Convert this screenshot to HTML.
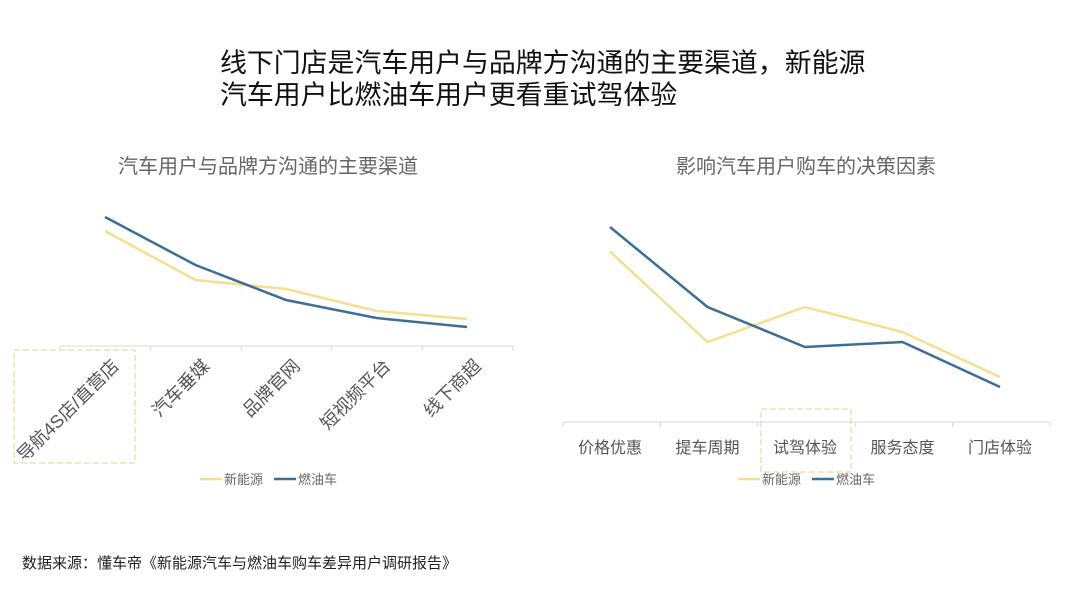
<!DOCTYPE html>
<html><head><meta charset="utf-8">
<style>
body{margin:0;background:#fff;}
svg text{font-family:"Liberation Sans","Noto Sans CJK SC",sans-serif;}
</style></head>
<body>
<svg width="1080" height="608" viewBox="0 0 1080 608" xmlns="http://www.w3.org/2000/svg">
<text x="220" y="72" font-size="26.9" fill="#111">线下门店是汽车用户与品牌方沟通的主要渠道，新能源</text>
<text x="220" y="104" font-size="26.9" fill="#111">汽车用户比燃油车用户更看重试驾体验</text>
<text x="268" y="173" font-size="20" fill="#666" text-anchor="middle">汽车用户与品牌方沟通的主要渠道</text>
<text x="806" y="173" font-size="20" fill="#666" text-anchor="middle">影响汽车用户购车的决策因素</text>
<text x="22" y="568" font-size="15" fill="#222">数据来源：懂车帝《新能源汽车与燃油车购车差异用户调研报告》</text>
<g id="left"></g>
<g id="right"></g>
<rect x="14" y="350" width="121" height="113" fill="none" stroke="#e3d08a" stroke-dasharray="6,3"/>
<rect x="761" y="409" width="90" height="63" fill="none" stroke="#e3d08a" stroke-dasharray="6,3"/>
</svg>
<script>
const NS="http://www.w3.org/2000/svg";
const leftCats=["导航4S店/直营店","汽车垂媒","品牌官网","短视频平台","线下商超"];
const leftNew=[46,26.4,22.8,14,10.8];
const leftFuel=[51.6,32.4,18.4,11.2,7.6];
const rightCats=["价格优惠","提车周期","试驾体验","服务态度","门店体验"];
const rightNew=[68.2,32,46,36,18];
const rightFuel=[78,46,30,32,14];
const seriesNames=["新能源","燃油车"];
const colors=["#f5df8e","#3c6f96"];
function mk(tag,attrs,parent){const e=document.createElementNS(NS,tag);for(const k in attrs)e.setAttribute(k,attrs[k]);parent.appendChild(e);return e;}
function draw(g,cats,s1,s2,o){
  const xs=i=>o.x0+i*o.dx;
  const ys=v=>o.base-v*o.k;
  const ax=mk("line",{x1:o.ax0,x2:o.ax1,y1:o.axisY,y2:o.axisY,stroke:"#d9d9d9"},g);
  
  
  for(let i=0;i<=cats.length;i++){
    const tx=o.ax0+i*(o.ax1-o.ax0)/cats.length;
    const t=mk("line",{x1:tx,x2:tx,y1:o.axisY,y2:o.axisY+5,stroke:"#d9d9d9"},g);
    
    
  }
  cats.forEach((c,i)=>{
    let t;
    if(o.rot){
      const x=xs(i)+6,y=o.axisY+12;
      t=mk("text",{x:x,y:y,"font-size":18,fill:"#555","text-anchor":"end",transform:`rotate(-45 ${x} ${y})`,"dominant-baseline":"hanging"},g);
    } else {
      t=mk("text",{x:xs(i),y:o.axisY+31,"font-size":16,fill:"#555","text-anchor":"middle"},g);
    }
    t.textContent=c;
    
    
  });
  [s1,s2].forEach((s,j)=>{
    const p=mk("polyline",{points:s.map((v,i)=>xs(i)+","+ys(v)).join(" "),fill:"none",stroke:colors[j],"stroke-width":2.5},g);
    
    
  });
  seriesNames.forEach((n,j)=>{
    const lx=o.lx+j*74;
    const l=mk("line",{x1:lx,x2:lx+22,y1:479,y2:479,stroke:colors[j],"stroke-width":2.5},g);
    
    
    const t=mk("text",{x:lx+24,y:484,"font-size":13,fill:"#666"},g);
    t.textContent=n;
    
    
  });
}
draw(document.getElementById("left"),leftCats,leftNew,leftFuel,{x0:105,dx:90.5,base:346,k:2.5,axisY:346,ax0:60,ax1:513,rot:true,lx:200});
draw(document.getElementById("right"),rightCats,rightNew,rightFuel,{x0:610,dx:97.5,base:422,k:2.5,axisY:422,ax0:563,ax1:1050,rot:false,lx:738});
</script>
</body></html>
